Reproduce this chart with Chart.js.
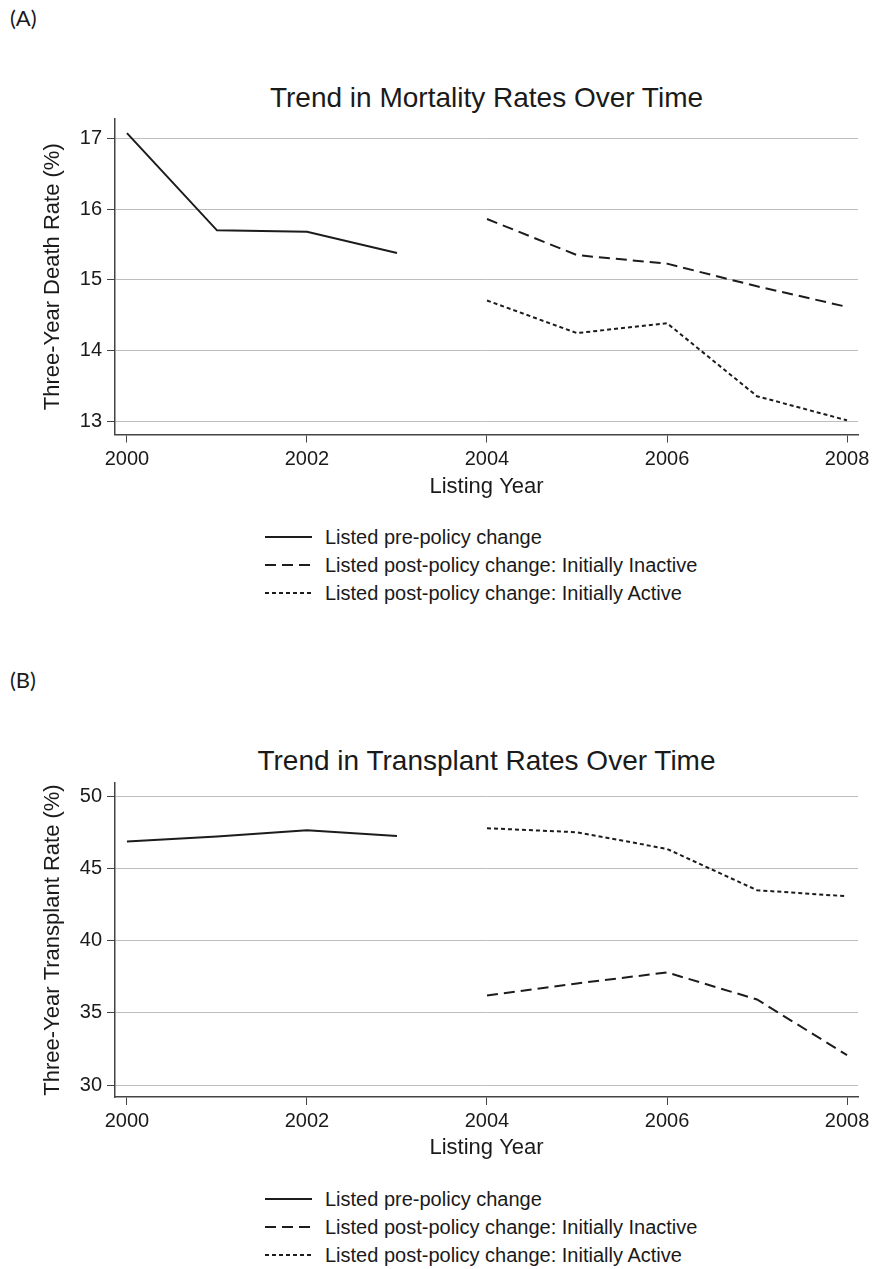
<!DOCTYPE html>
<html>
<head>
<meta charset="utf-8">
<script src="https://cdn.jsdelivr.net/npm/chart.js@4.4.0/dist/chart.umd.min.js"></script>
<style>
  body { margin: 0; background: #fff; width: 872px; height: 1269px; position: relative; overflow: hidden; font-family: "Liberation Sans", Arial, sans-serif; color: #1a1a1a; }
  .panel { position: absolute; left: 10px; font-family: Lato, "Open Sans", sans-serif; font-size: 22px; }
  .title { position: absolute; left: 115px; width: 743px; text-align: center; font-size: 28px; line-height: 32px; }
  .box { position: absolute; left: 0; width: 872px; height: 400px; }
  .legend { position: absolute; left: 265px; font-size: 20px; }
  .legend div { height: 28px; line-height: 28px; display: flex; align-items: center; }
  .legend svg { margin-right: 13px; }
</style>
</head>
<body>
<div class="panel" style="top:4px">(A)</div>
<div class="title" style="top:82px">Trend in Mortality Rates Over Time</div>
<div class="box" style="top:100px"><canvas id="chartA"></canvas></div>
<div class="legend" id="legendA" style="top:523px"></div>

<div class="panel" style="top:666px">(B)</div>
<div class="title" style="top:745px">Trend in Transplant Rates Over Time</div>
<div class="box" style="top:764px"><canvas id="chartB"></canvas></div>
<div class="legend" id="legendB" style="top:1185px"></div>

<script>
// Years for each period
const preYears = [2000, 2001, 2002, 2003];
const postYears = [2004, 2005, 2006, 2007, 2008];
const xTicks = [2000, 2002, 2004, 2006, 2008];

// Panel A: three-year death rate (%)
const deathPre = [17.07, 15.70, 15.68, 15.38];
const deathInactive = [15.86, 15.35, 15.23, 14.91, 14.62];
const deathActive = [14.71, 14.25, 14.39, 13.36, 13.02];
const deathTicks = [13, 14, 15, 16, 17];

// Panel B: three-year transplant rate (%)
const transPre = [46.85, 47.2, 47.63, 47.24];
const transInactive = [36.2, 37.03, 37.79, 35.92, 32.07];
const transActive = [47.77, 47.49, 46.34, 43.48, 43.06];
const transTicks = [30, 35, 40, 45, 50];

const seriesNames = [
    'Listed pre-policy change',
    'Listed post-policy change: Initially Inactive',
    'Listed post-policy change: Initially Active'
];
const dashes = [[], [11, 6], [4, 3]];
const lineColor = '#1c1c1c';

function toPoints(years, values) {
    return years.map((yr, i) => ({ x: yr, y: values[i] }));
}

function makeChart(id, opts) {
    const ctx = document.getElementById(id).getContext('2d');
    const sets = [
        toPoints(preYears, opts.pre),
        toPoints(postYears, opts.inactive),
        toPoints(postYears, opts.active)
    ];
    return new Chart(ctx, {
        type: 'line',
        data: {
            datasets: sets.map((pts, i) => ({
                label: seriesNames[i],
                data: pts,
                borderColor: lineColor,
                borderWidth: 2,
                borderDash: dashes[i],
                pointRadius: 0,
                tension: 0,
                fill: false
            }))
        },
        options: {
            responsive: true,
            maintainAspectRatio: false,
            animation: false,
            layout: { padding: { left: 0, right: 14, top: 19, bottom: 0 } },
            plugins: { legend: { display: false }, tooltip: { enabled: false } },
            scales: {
                x: {
                    type: 'linear',
                    min: 1999.867,
                    max: 2008.122,
                    afterBuildTicks: s => { s.ticks = xTicks.map(v => ({ value: v })); },
                    afterFit: s => {
                        s.height = opts.xHeight;
                        // don't let the last label eat into the plot width
                        s.paddingLeft = 0;
                        s.paddingRight = 0;
                    },
                    grid: { drawOnChartArea: false, tickLength: 8, tickColor: '#444', tickWidth: 1 },
                    border: { color: '#444', width: 1.5 },
                    ticks: { color: '#1a1a1a', padding: opts.xTickPad, font: { size: 20, family: 'Liberation Sans' }, callback: v => String(v) },
                    title: { display: true, text: 'Listing Year', color: '#1a1a1a', font: { size: 22, family: 'Liberation Sans' }, padding: { top: 0, bottom: opts.xTitlePad } }
                },
                y: {
                    min: opts.min,
                    max: opts.max,
                    afterBuildTicks: s => { s.ticks = opts.ticks.map(v => ({ value: v })); },
                    afterFit: s => { s.width = 115; },
                    grid: { color: '#bdbdbd', lineWidth: 1, tickLength: 8, tickColor: '#444' },
                    border: { color: '#444', width: 1.5 },
                    ticks: { color: '#1a1a1a', padding: 5, font: { size: 20, family: 'Liberation Sans' } },
                    title: { display: true, text: opts.yTitle, color: '#1a1a1a', font: { size: 22, family: 'Liberation Sans' }, padding: { top: 40, bottom: 0 } }
                }
            }
        }
    });
}

function makeLegend(id) {
    const el = document.getElementById(id);
    seriesNames.forEach((name, i) => {
        const row = document.createElement('div');
        const dash = dashes[i].length ? dashes[i].join(' ') : 'none';
        row.innerHTML = '<svg width="47" height="4"><line x1="0" y1="2" x2="47" y2="2" stroke="' + lineColor +
            '" stroke-width="2" stroke-dasharray="' + dash + '"/></svg><span>' + name + '</span>';
        el.appendChild(row);
    });
}

makeChart('chartA', {
    pre: deathPre, inactive: deathInactive, active: deathActive,
    min: 12.82, max: 17.27, ticks: deathTicks,
    yTitle: 'Three-Year Death Rate (%)', xHeight: 65.5, xTickPad: 4.5, xTitlePad: 0
});
makeChart('chartB', {
    pre: transPre, inactive: transInactive, active: transActive,
    min: 29.17, max: 50.9, ticks: transTicks,
    yTitle: 'Three-Year Transplant Rate (%)', xHeight: 67, xTickPad: 4, xTitlePad: 3
});
makeLegend('legendA');
makeLegend('legendB');
</script>
</body>
</html>
